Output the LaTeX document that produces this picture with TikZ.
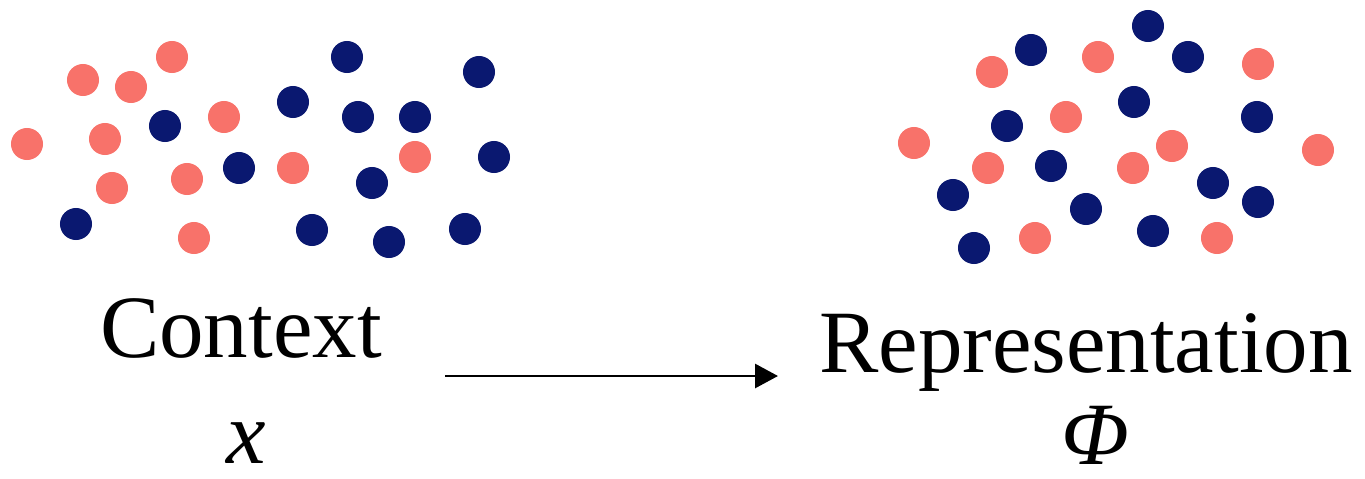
\documentclass[tikz,border=0pt]{standalone}
\usepackage{fontspec}
\setmainfont{Liberation Serif}
\usetikzlibrary{arrows.meta}
\definecolor{salmon}{RGB}{248,114,106}
\definecolor{navy}{RGB}{10,24,112}
\tikzset{
    pinkdot/.style = {fill=salmon},
    bluedot/.style = {fill=navy},
    txt/.style = {inner sep=0pt, anchor=base,
        font=\fontsize{25.3pt}{30pt}\selectfont},
    arrow/.style = {draw, line width=0.8pt,
        -{Triangle[length=6.5pt,width=6.8pt]}}
}

\begin{document}
\begin{tikzpicture}[x=0.01cm, y=-0.01cm]
                \useasboundingbox (0,0) rectangle (1365,478);
                % context points
                \foreach \p in {(83,80),(131,87),(172,57),(224,117),(27,144),(105,139),
                                (112,188),(187,179),(194,238),(293,168),(415,157)}
                    \fill[pinkdot] \p circle[radius=0.16cm];
                \foreach \p in {(165,126),(239,168),(76,224),(347,57),(293,102),(358,117),(415,117),
                                (479,72),(494,157),(372,183),(312,230),(389,242),(465,229)}
                    \fill[bluedot] \p circle[radius=0.16cm];
                % representation points
                \foreach \p in {(992,72),(1098,57),(1066,117),(914,143),(988,168),(1035,238),
                                (1258,64),(1172,146),(1133,168),(1318,150),(1217,238)}
                    \fill[pinkdot] \p circle[radius=0.16cm];
                \foreach \p in {(1031,50),(1007,126),(1051,166),(953,195),(1086,209),(974,248),(1148,26),
                                (1188,57),(1134,102),(1257,117),(1213,183),(1258,202),(1153,231)}
                    \fill[bluedot] \p circle[radius=0.16cm];
                \node[txt] (ctx) at (241,357) {Context};
                \node[txt] (ctxvar) at (246,463) {\textit{x}};
                \node[txt] (rep) at (1086,372) {Representation};
                \node[txt] (repvar) at (1095,464) {\textit{Φ}};
                \coordinate (a1) at (445,376);
                \coordinate (a2) at (778,376);
                \draw [arrow] (a1) -- (a2);
            \end{tikzpicture}
\end{document}
